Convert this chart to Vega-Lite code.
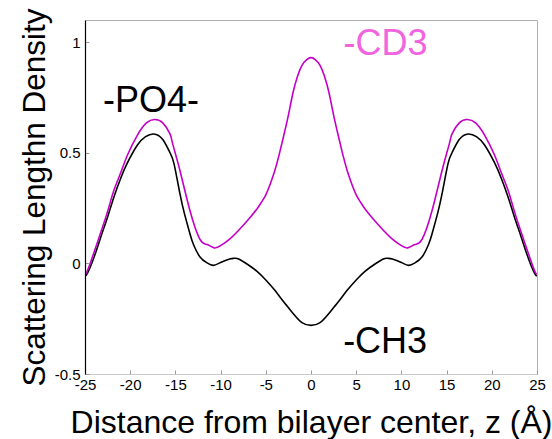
{
  "$schema": "https://vega.github.io/schema/vega-lite/v6.json",
  "width": 452,
  "height": 354,
  "autosize": {"type": "none"},
  "padding": {"left": 85, "top": 20, "right": 15, "bottom": 65},
  "background": "white",
  "config": {
    "view": {"stroke": "#b0b0b0", "strokeWidth": 1},
    "font": "Liberation Sans"
  },
  "datasets": {
    "curves": [
      {"z": -25, "v": -0.052, "s": "CH3"}, {"z": -24.75, "v": -0.046, "s": "CH3"}, {"z": -24, "v": 0.028, "s": "CH3"}, {"z": -23.26, "v": 0.118, "s": "CH3"}, {"z": -22.5, "v": 0.21, "s": "CH3"}, {"z": -21.8, "v": 0.30, "s": "CH3"}, {"z": -21.05, "v": 0.385, "s": "CH3"}, {"z": -20.3, "v": 0.455, "s": "CH3"}, {"z": -19.2, "v": 0.535, "s": "CH3"}, {"z": -18.3, "v": 0.573, "s": "CH3"}, {"z": -17.4, "v": 0.585, "s": "CH3"}, {"z": -16.4, "v": 0.56, "s": "CH3"}, {"z": -15.6, "v": 0.5, "s": "CH3"}, {"z": -15.15, "v": 0.45, "s": "CH3"}, {"z": -14.5, "v": 0.315, "s": "CH3"}, {"z": -14, "v": 0.225, "s": "CH3"}, {"z": -13.4, "v": 0.135, "s": "CH3"}, {"z": -13, "v": 0.085, "s": "CH3"}, {"z": -12.3, "v": 0.03, "s": "CH3"}, {"z": -11.5, "v": 0.002, "s": "CH3"}, {"z": -10.8, "v": -0.009, "s": "CH3"}, {"z": -10, "v": 0.004, "s": "CH3"}, {"z": -9, "v": 0.02, "s": "CH3"}, {"z": -8.5, "v": 0.023, "s": "CH3"}, {"z": -8, "v": 0.02, "s": "CH3"}, {"z": -7, "v": -0.005, "s": "CH3"}, {"z": -6, "v": -0.035, "s": "CH3"}, {"z": -5, "v": -0.075, "s": "CH3"}, {"z": -4, "v": -0.122, "s": "CH3"}, {"z": -3, "v": -0.175, "s": "CH3"}, {"z": -2, "v": -0.225, "s": "CH3"}, {"z": -1, "v": -0.268, "s": "CH3"}, {"z": 0, "v": -0.28, "s": "CH3"},
      {"z": 1, "v": -0.268, "s": "CH3"}, {"z": 2, "v": -0.225, "s": "CH3"}, {"z": 3, "v": -0.175, "s": "CH3"}, {"z": 4, "v": -0.122, "s": "CH3"}, {"z": 5, "v": -0.075, "s": "CH3"}, {"z": 6, "v": -0.035, "s": "CH3"}, {"z": 7, "v": -0.005, "s": "CH3"}, {"z": 8, "v": 0.02, "s": "CH3"}, {"z": 8.5, "v": 0.023, "s": "CH3"}, {"z": 9, "v": 0.02, "s": "CH3"}, {"z": 10, "v": 0.004, "s": "CH3"}, {"z": 10.8, "v": -0.009, "s": "CH3"}, {"z": 11.5, "v": 0.002, "s": "CH3"}, {"z": 12.3, "v": 0.03, "s": "CH3"}, {"z": 13, "v": 0.085, "s": "CH3"}, {"z": 13.4, "v": 0.135, "s": "CH3"}, {"z": 14, "v": 0.225, "s": "CH3"}, {"z": 14.5, "v": 0.315, "s": "CH3"}, {"z": 15.15, "v": 0.45, "s": "CH3"}, {"z": 15.6, "v": 0.5, "s": "CH3"}, {"z": 16.4, "v": 0.56, "s": "CH3"}, {"z": 17.4, "v": 0.585, "s": "CH3"}, {"z": 18.3, "v": 0.573, "s": "CH3"}, {"z": 19.2, "v": 0.535, "s": "CH3"}, {"z": 20.3, "v": 0.455, "s": "CH3"}, {"z": 21.05, "v": 0.385, "s": "CH3"}, {"z": 21.8, "v": 0.30, "s": "CH3"}, {"z": 22.5, "v": 0.21, "s": "CH3"}, {"z": 23.26, "v": 0.118, "s": "CH3"}, {"z": 24, "v": 0.028, "s": "CH3"}, {"z": 24.75, "v": -0.046, "s": "CH3"}, {"z": 25, "v": -0.052, "s": "CH3"},
      {"z": -25, "v": -0.045, "s": "CD3"}, {"z": -24.75, "v": -0.035, "s": "CD3"}, {"z": -24, "v": 0.05, "s": "CD3"}, {"z": -23.3, "v": 0.135, "s": "CD3"}, {"z": -22.5, "v": 0.235, "s": "CD3"}, {"z": -21.8, "v": 0.33, "s": "CD3"}, {"z": -21, "v": 0.415, "s": "CD3"}, {"z": -20.3, "v": 0.49, "s": "CD3"}, {"z": -19.2, "v": 0.58, "s": "CD3"}, {"z": -18.2, "v": 0.635, "s": "CD3"}, {"z": -17.3, "v": 0.65, "s": "CD3"}, {"z": -16.4, "v": 0.635, "s": "CD3"}, {"z": -15.6, "v": 0.585, "s": "CD3"}, {"z": -15.3, "v": 0.54, "s": "CD3"}, {"z": -14.5, "v": 0.42, "s": "CD3"}, {"z": -13.4, "v": 0.24, "s": "CD3"}, {"z": -12.3, "v": 0.11, "s": "CD3"}, {"z": -11.5, "v": 0.085, "s": "CD3"}, {"z": -10.7, "v": 0.07, "s": "CD3"}, {"z": -10, "v": 0.08, "s": "CD3"}, {"z": -9, "v": 0.11, "s": "CD3"}, {"z": -8, "v": 0.15, "s": "CD3"}, {"z": -7, "v": 0.195, "s": "CD3"}, {"z": -6, "v": 0.245, "s": "CD3"}, {"z": -5.5, "v": 0.275, "s": "CD3"}, {"z": -5, "v": 0.31, "s": "CD3"}, {"z": -4.5, "v": 0.36, "s": "CD3"}, {"z": -4, "v": 0.42, "s": "CD3"}, {"z": -3.5, "v": 0.495, "s": "CD3"}, {"z": -3, "v": 0.58, "s": "CD3"}, {"z": -2.5, "v": 0.67, "s": "CD3"}, {"z": -2, "v": 0.77, "s": "CD3"}, {"z": -1.5, "v": 0.845, "s": "CD3"}, {"z": -1, "v": 0.895, "s": "CD3"}, {"z": -0.5, "v": 0.92, "s": "CD3"}, {"z": 0, "v": 0.93, "s": "CD3"},
      {"z": 0.5, "v": 0.92, "s": "CD3"}, {"z": 1, "v": 0.895, "s": "CD3"}, {"z": 1.5, "v": 0.845, "s": "CD3"}, {"z": 2, "v": 0.77, "s": "CD3"}, {"z": 2.5, "v": 0.67, "s": "CD3"}, {"z": 3, "v": 0.58, "s": "CD3"}, {"z": 3.5, "v": 0.495, "s": "CD3"}, {"z": 4, "v": 0.42, "s": "CD3"}, {"z": 4.5, "v": 0.36, "s": "CD3"}, {"z": 5, "v": 0.31, "s": "CD3"}, {"z": 5.5, "v": 0.275, "s": "CD3"}, {"z": 6, "v": 0.245, "s": "CD3"}, {"z": 7, "v": 0.195, "s": "CD3"}, {"z": 8, "v": 0.15, "s": "CD3"}, {"z": 9, "v": 0.11, "s": "CD3"}, {"z": 10, "v": 0.08, "s": "CD3"}, {"z": 10.7, "v": 0.07, "s": "CD3"}, {"z": 11.5, "v": 0.085, "s": "CD3"}, {"z": 12.3, "v": 0.11, "s": "CD3"}, {"z": 13.4, "v": 0.24, "s": "CD3"}, {"z": 14.5, "v": 0.42, "s": "CD3"}, {"z": 15.3, "v": 0.54, "s": "CD3"}, {"z": 15.6, "v": 0.585, "s": "CD3"}, {"z": 16.4, "v": 0.635, "s": "CD3"}, {"z": 17.3, "v": 0.65, "s": "CD3"}, {"z": 18.2, "v": 0.635, "s": "CD3"}, {"z": 19.2, "v": 0.58, "s": "CD3"}, {"z": 20.3, "v": 0.49, "s": "CD3"}, {"z": 21, "v": 0.415, "s": "CD3"}, {"z": 21.8, "v": 0.33, "s": "CD3"}, {"z": 22.5, "v": 0.235, "s": "CD3"}, {"z": 23.3, "v": 0.135, "s": "CD3"}, {"z": 24, "v": 0.05, "s": "CD3"}, {"z": 24.75, "v": -0.035, "s": "CD3"}, {"z": 25, "v": -0.045, "s": "CD3"}
    ],
    "labels": [
      {"z": -17.7, "v": 0.684, "t": "-PO4-", "c": "black"},
      {"z": 8.24, "v": 0.94, "t": "-CD3", "c": "pink"},
      {"z": 8.2, "v": -0.405, "t": "-CH3", "c": "black"}
    ]
  },
  "layer": [
    {
      "data": {"name": "curves"},
      "mark": {"type": "line", "interpolate": "natural", "strokeWidth": 1.6, "clip": true},
      "encoding": {
        "x": {
          "field": "z", "type": "quantitative",
          "scale": {"domain": [-25, 25], "nice": false},
          "axis": {
            "values": [-25, -20, -15, -10, -5, 0, 5, 10, 15, 20, 25],
            "labelExpr": "datum.value + ''",
            "labelFlush": false,
            "labelFont": "Liberation Sans", "labelFontSize": 15, "labelColor": "black",
            "labelPadding": 7,
            "tickSize": -4, "tickColor": "#999", "domainColor": "#c8c8c8",
            "grid": false, "zindex": 1,
            "title": "Distance from bilayer center, z (Å)",
            "titleFont": "Liberation Sans", "titleFontSize": 32, "titleFontWeight": "normal", "titleColor": "black",
            "titleBaseline": "alphabetic", "titleY": 58
          }
        },
        "y": {
          "field": "v", "type": "quantitative",
          "scale": {"domain": [-0.5, 1.1], "nice": false, "zero": false},
          "axis": {
            "values": [-0.5, 0, 0.5, 1],
            "labelExpr": "datum.value + ''",
            "labelFlush": false,
            "labelFont": "Liberation Sans", "labelFontSize": 15, "labelColor": "black",
            "labelPadding": 9,
            "tickSize": -4, "tickColor": "#999", "domainColor": "black", "domainWidth": 1.2,
            "grid": false, "zindex": 1,
            "title": "Scattering Lengthn Density",
            "titleFont": "Liberation Sans", "titleFontSize": 31.5, "titleFontWeight": "normal", "titleColor": "black",
            "titleBaseline": "alphabetic", "titleX": -41, "titleY": 177, "titleAngle": -90
          }
        },
        "color": {
          "field": "s", "type": "nominal",
          "scale": {"domain": ["CH3", "CD3"], "range": ["#000000", "#C400C8"]},
          "legend": null
        },
        "order": {"field": "z", "type": "quantitative"}
      }
    },
    {
      "data": {"name": "labels"},
      "mark": {"type": "text", "font": "Liberation Sans", "fontSize": 36, "align": "center", "baseline": "alphabetic"},
      "encoding": {
        "x": {"field": "z", "type": "quantitative"},
        "y": {"field": "v", "type": "quantitative"},
        "text": {"field": "t"},
        "color": {
          "field": "c", "type": "nominal",
          "scale": {"domain": ["black", "pink"], "range": ["#000000", "#F064E0"]},
          "legend": null
        }
      }
    }
  ],
  "resolve": {"scale": {"color": "independent"}}
}
